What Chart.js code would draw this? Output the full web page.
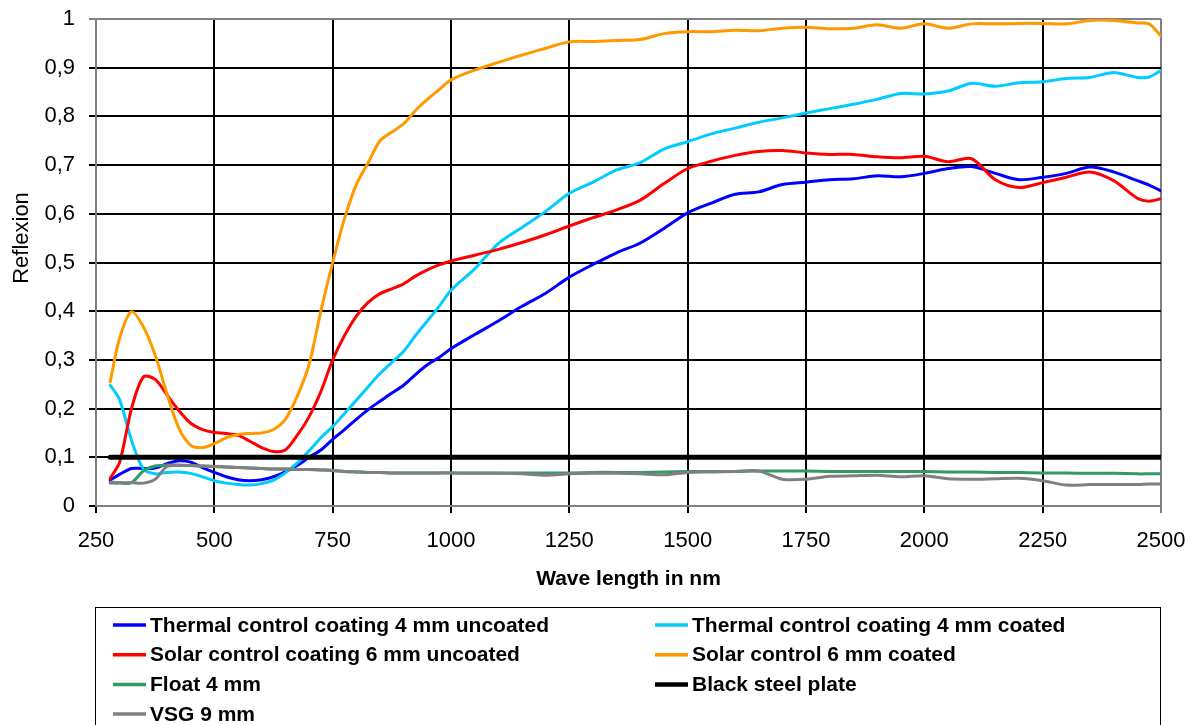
<!DOCTYPE html>
<html>
<head>
<meta charset="utf-8">
<script src="https://cdn.jsdelivr.net/npm/chart.js@4.4.1/dist/chart.umd.min.js"></script>
<style>
    body { margin: 0; background: #fff; }
</style>
</head>
<body>
<canvas id="myChart" width="1202" height="725"></canvas>
<script>
// wave lengths in nm (shared by every series)
const wavelengths = [280, 300, 325, 350, 375, 400, 425, 450, 475, 500, 525, 550, 575, 600, 625, 650, 675, 700, 725, 750,
    775, 800, 825, 850, 875, 900, 925, 950, 975, 1000, 1050, 1100, 1150, 1200, 1250, 1300, 1350, 1400, 1450, 1500,
    1550, 1600, 1650, 1700, 1750, 1800, 1850, 1900, 1950, 2000, 2050, 2100, 2150, 2200, 2250, 2300, 2350, 2400, 2450, 2475, 2500];

const thermalUncoated = [0.053, 0.065, 0.077, 0.077, 0.078, 0.087, 0.093, 0.090, 0.079, 0.069, 0.060, 0.054, 0.052, 0.054, 0.060, 0.070, 0.083, 0.100, 0.115, 0.137,
    0.157, 0.178, 0.198, 0.215, 0.232, 0.248, 0.270, 0.290, 0.305, 0.323, 0.352, 0.380, 0.410, 0.437, 0.470, 0.496, 0.520, 0.540, 0.570, 0.602,
    0.622, 0.640, 0.645, 0.660, 0.665, 0.670, 0.672, 0.678, 0.676, 0.683, 0.693, 0.697, 0.683, 0.670, 0.675, 0.683, 0.696, 0.686, 0.668, 0.659, 0.647];

const thermalCoated = [0.248, 0.218, 0.135, 0.076, 0.066, 0.069, 0.070, 0.067, 0.060, 0.052, 0.047, 0.044, 0.043, 0.046, 0.053, 0.068, 0.088, 0.113, 0.140, 0.163,
    0.190, 0.217, 0.245, 0.272, 0.295, 0.318, 0.350, 0.380, 0.410, 0.443, 0.487, 0.539, 0.572, 0.605, 0.642, 0.665, 0.690, 0.705, 0.733, 0.748,
    0.764, 0.776, 0.788, 0.797, 0.807, 0.816, 0.825, 0.835, 0.847, 0.846, 0.852, 0.868, 0.862, 0.869, 0.871, 0.878, 0.880, 0.890, 0.880, 0.881, 0.894];

const solarUncoated = [0.057, 0.090, 0.200, 0.265, 0.260, 0.228, 0.196, 0.170, 0.157, 0.151, 0.149, 0.145, 0.133, 0.120, 0.112, 0.115, 0.145, 0.183, 0.235, 0.300,
    0.350, 0.390, 0.418, 0.436, 0.446, 0.456, 0.472, 0.485, 0.495, 0.503, 0.515, 0.527, 0.541, 0.557, 0.575, 0.592, 0.608, 0.628, 0.662, 0.693,
    0.708, 0.720, 0.728, 0.730, 0.725, 0.722, 0.722, 0.717, 0.715, 0.718, 0.707, 0.713, 0.670, 0.654, 0.664, 0.675, 0.686, 0.668, 0.632, 0.626, 0.631];

const solarCoated = [0.255, 0.345, 0.399, 0.368, 0.310, 0.230, 0.160, 0.125, 0.120, 0.128, 0.140, 0.147, 0.149, 0.150, 0.157, 0.178, 0.225, 0.290, 0.400, 0.500,
    0.590, 0.660, 0.705, 0.750, 0.768, 0.785, 0.812, 0.835, 0.855, 0.875, 0.895, 0.911, 0.926, 0.940, 0.953, 0.954, 0.956, 0.958, 0.970, 0.974,
    0.974, 0.977, 0.976, 0.981, 0.983, 0.980, 0.981, 0.988, 0.981, 0.990, 0.981, 0.990, 0.990, 0.991, 0.991, 0.990, 0.997, 0.997, 0.992, 0.990, 0.965];

const float4 = [0.047, 0.047, 0.048, 0.072, 0.082, 0.084, 0.084, 0.083, 0.082, 0.081, 0.080, 0.079, 0.078, 0.077, 0.076, 0.076, 0.075, 0.075, 0.074, 0.073,
    0.071, 0.070, 0.069, 0.069, 0.068, 0.068, 0.068, 0.068, 0.068, 0.068, 0.068, 0.068, 0.068, 0.068, 0.068, 0.069, 0.069, 0.069, 0.070, 0.071,
    0.071, 0.071, 0.072, 0.072, 0.072, 0.071, 0.071, 0.071, 0.071, 0.071, 0.070, 0.070, 0.069, 0.069, 0.068, 0.068, 0.067, 0.067, 0.066, 0.066, 0.066];

const blackSteel = [0.1, 0.1, 0.1, 0.1, 0.1, 0.1, 0.1, 0.1, 0.1, 0.1, 0.1, 0.1, 0.1, 0.1, 0.1, 0.1, 0.1, 0.1, 0.1, 0.1,
    0.1, 0.1, 0.1, 0.1, 0.1, 0.1, 0.1, 0.1, 0.1, 0.1, 0.1, 0.1, 0.1, 0.1, 0.1, 0.1, 0.1, 0.1, 0.1, 0.1,
    0.1, 0.1, 0.1, 0.1, 0.1, 0.1, 0.1, 0.1, 0.1, 0.1, 0.1, 0.1, 0.1, 0.1, 0.1, 0.1, 0.1, 0.1, 0.1, 0.1, 0.1];

const vsg9 = [0.049, 0.048, 0.048, 0.047, 0.055, 0.081, 0.083, 0.083, 0.082, 0.081, 0.080, 0.079, 0.078, 0.077, 0.076, 0.076, 0.075, 0.075, 0.074, 0.073,
    0.071, 0.070, 0.069, 0.069, 0.068, 0.068, 0.068, 0.068, 0.068, 0.068, 0.067, 0.067, 0.066, 0.063, 0.066, 0.067, 0.067, 0.066, 0.064, 0.069,
    0.070, 0.071, 0.072, 0.055, 0.055, 0.061, 0.062, 0.063, 0.060, 0.062, 0.056, 0.055, 0.056, 0.057, 0.052, 0.043, 0.044, 0.044, 0.044, 0.045, 0.045];

const seriesLabels = ["Thermal control coating 4 mm uncoated", "Thermal control coating 4 mm coated",
    "Solar control coating 6 mm uncoated", "Solar control 6 mm coated", "Float 4 mm", "Black steel plate", "VSG 9 mm"];
const seriesValues = [thermalUncoated, thermalCoated, solarUncoated, solarCoated, float4, blackSteel, vsg9];
const seriesColors = ["#0000ff", "#00ccff", "#ff0000", "#ff9900", "#339966", "#000000", "#808080"];
const seriesWidths = [3, 3, 3, 3, 3, 5, 3];

const xTicks = [250, 500, 750, 1000, 1250, 1500, 1750, 2000, 2250, 2500];

Chart.defaults.font.family = "'Liberation Sans', Arial, sans-serif";
Chart.defaults.color = "#000";

// y axis title, placed a bit above the middle like the original
const yTitle = {
    id: "yTitle",
    afterDraw(chart) {
        const ctx = chart.ctx;
        ctx.save();
        ctx.translate(22, 238);
        ctx.rotate(-Math.PI / 2);
        ctx.font = "22px 'Liberation Sans', Arial, sans-serif";
        ctx.textAlign = "center";
        ctx.textBaseline = "middle";
        ctx.fillStyle = "#000";
        ctx.fillText("Reflexion", 0, 0);
        ctx.restore();
    }
};

// legend in a box below the chart, two columns like the original
const boxLegend = {
    id: "boxLegend",
    afterDraw(chart) {
        const ctx = chart.ctx;
        ctx.save();
        ctx.strokeStyle = "#000";
        ctx.lineWidth = 1;
        ctx.strokeRect(95.5, 607.5, 1065, 200);

        ctx.font = "bold 21px 'Liberation Sans', Arial, sans-serif";
        ctx.textBaseline = "middle";
        ctx.fillStyle = "#000";
        chart.data.datasets.forEach((ds, i) => {
            let col = i % 2;
            let row = Math.floor(i / 2);
            let x = col === 0 ? 113 : 655;
            let y = 625 + row * 29.7;
            ctx.strokeStyle = ds.borderColor;
            ctx.lineWidth = ds.borderWidth === 5 ? 4.5 : 3.5;
            ctx.beginPath();
            ctx.moveTo(x, y);
            ctx.lineTo(x + 33, y);
            ctx.stroke();
            ctx.fillText(ds.label, x + 37, y + 1);
        });
        ctx.restore();
    }
};

let datasets = [];
for (var i = 0; i < seriesLabels.length; i++) {
    datasets.push({
        label: seriesLabels[i],
        data: wavelengths.map((w, j) => ({ x: w, y: seriesValues[i][j] })),
        borderColor: seriesColors[i],
        backgroundColor: seriesColors[i],
        borderWidth: seriesWidths[i],
        borderCapStyle: "round",
        pointRadius: 0,
        tension: 0.3,
        fill: false,
        order: seriesLabels.length - i
    });
};

new Chart(document.getElementById("myChart"), {
    type: "line",
    data: { datasets: datasets },
    plugins: [boxLegend, yTitle],
    options: {
        responsive: false,
        animation: false,
        devicePixelRatio: 1,
        layout: {
            padding: { top: 19, right: 41, left: 5, bottom: 129 }
        },
        plugins: {
            legend: { display: false },
            tooltip: { enabled: false }
        },
        scales: {
            x: {
                type: "linear",
                min: 250,
                max: 2500,
                afterBuildTicks: scale => { scale.ticks = xTicks.map(v => ({ value: v })); },
                afterFit: scale => { scale.height = 90; },
                ticks: {
                    font: { size: 22 },
                    padding: 15,
                    maxRotation: 0,
                    autoSkip: false,
                    callback: v => String(v)
                },
                grid: {
                    color: c => (c.tick && c.tick.value === 2500) ? "#808080" : "#000",
                    lineWidth: 2,
                    tickLength: 7
                },
                border: { color: "#808080", width: 2 },
                title: {
                    display: true,
                    text: "Wave length in nm",
                    font: { size: 21, weight: "bold" }
                }
            },
            y: {
                min: 0,
                max: 1,
                afterFit: scale => {
                    // fixed axis width, and no extra room above the top label
                    scale.width = 91;
                    scale.paddingTop = 8;
                    scale.paddingBottom = 8;
                },
                ticks: {
                    stepSize: 0.1,
                    font: { size: 22 },
                    padding: 14,
                    callback: v => (v === 0 || v === 1) ? String(v) : v.toFixed(1).replace(".", ",")
                },
                grid: {
                    color: c => (c.tick && c.tick.value === 1) ? "#808080" : "#000",
                    lineWidth: 2,
                    tickLength: 7
                },
                border: { color: "#808080", width: 2 }
            }
        }
    }
});
</script>
</body>
</html>
